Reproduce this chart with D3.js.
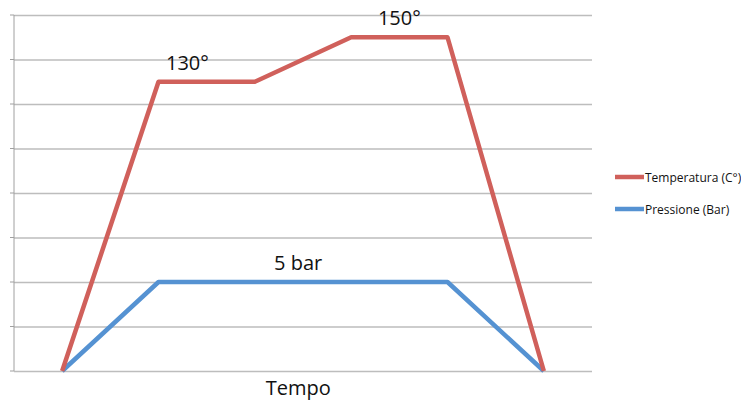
<!DOCTYPE html>
<html lang="it">
<head>
<meta charset="UTF-8" />
<title>Temperatura e Pressione</title>
<style>
  body { margin: 0; background: #fff; }
  text { font-family: "Open Sans", "DejaVu Sans", sans-serif; fill: #111; }
</style>
</head>
<body>
<svg width="741" height="405"></svg>
<script src="https://cdnjs.cloudflare.com/ajax/libs/d3/7.8.5/d3.min.js"></script>
<script>
  // data
  var steps = ["1", "2", "3", "4", "5", "6"];
  var temperatura = [0, 130, 130, 150, 150, 0];
  var pressione = [0, 5, 5, 5, 5, 0];
  var tempTicks = [0, 20, 40, 60, 80, 100, 120, 140, 160];
  var labels = [
    { text: "130°", series: "t", i: 1, at: 1.3 },
    { text: "150°", series: "t", i: 3, at: 3.5 },
    { text: "5 bar", series: "p", i: 2, at: 2.45 }
  ];

  var svg = d3.select("svg");
  var plotLeft = 14, plotRight = 592, plotTop = 15, plotBottom = 371;

  var x = d3.scalePoint().domain(steps).range([plotLeft, plotRight]).padding(0.5);
  var y = d3.scaleLinear().domain([0, 160]).range([plotBottom, plotTop]);
  var yp = d3.scaleLinear().domain([0, 20]).range([plotBottom, plotTop]);

  // gridlines
  svg.append("g")
    .attr("transform", "translate(" + plotLeft + ",0)")
    .call(d3.axisLeft(y).tickValues(tempTicks).tickSize(-(plotRight - plotLeft)).tickSizeOuter(0).tickFormat(""))
    .call(function (g) {
      g.select(".domain").remove();
      g.selectAll("line").attr("stroke", "#bdbdbd").attr("stroke-width", 1.5);
    });
  svg.selectAll(".tickmark").data(tempTicks).enter().append("line")
    .attr("x1", plotLeft - 4).attr("x2", plotLeft)
    .attr("y1", function (d) { return y(d); })
    .attr("y2", function (d) { return y(d); })
    .attr("stroke", "#a0a0a0");
  svg.append("line")
    .attr("x1", plotLeft).attr("x2", plotLeft).attr("y1", plotTop).attr("y2", plotBottom)
    .attr("stroke", "#a0a0a0").attr("stroke-width", 1);

  var xi = function (i) {
    var a = Math.floor(i), b = Math.min(a + 1, steps.length - 1);
    return x(steps[a]) + (x(steps[b]) - x(steps[a])) * (i - a);
  };

  var lineT = d3.line().x(function (d, i) { return x(steps[i]); }).y(function (d) { return y(d); });
  var lineP = d3.line().x(function (d, i) { return x(steps[i]); }).y(function (d) { return yp(d); });

  svg.append("path").datum(pressione)
    .attr("d", lineP).attr("fill", "none")
    .attr("stroke", "#5592d2").attr("stroke-width", 4.5).attr("stroke-linejoin", "round");
  svg.append("path").datum(temperatura)
    .attr("d", lineT).attr("fill", "none")
    .attr("stroke", "#d0605b").attr("stroke-width", 4.5).attr("stroke-linejoin", "round");

  // value labels
  svg.selectAll(".lbl").data(labels).enter().append("text")
    .attr("x", function (d) { return xi(d.at); })
    .attr("y", function (d) {
      var v = d.series == "t" ? y(temperatura[d.i]) : yp(pressione[d.i]);
      return v - 12;
    })
    .attr("text-anchor", "middle")
    .attr("font-size", 20)
    .text(function (d) { return d.text; });

  svg.append("text")
    .attr("x", xi(2.45)).attr("y", 395)
    .attr("text-anchor", "middle").attr("font-size", 20)
    .text("Tempo");

  // legend
  var legend = [
    { name: "Temperatura (C°)", color: "#d0605b" },
    { name: "Pressione (Bar)", color: "#5592d2" }
  ];
  var lg = svg.append("g").attr("transform", "translate(615,177)");
  legend.forEach(function (d, i) {
    lg.append("line").attr("x1", 0).attr("x2", 29).attr("y1", i * 32).attr("y2", i * 32)
      .attr("stroke", d.color).attr("stroke-width", 4.5);
    lg.append("text").attr("x", 30).attr("y", i * 32 + 4.5)
      .attr("font-size", 12).text(d.name);
  });
</script>
</body>
</html>
